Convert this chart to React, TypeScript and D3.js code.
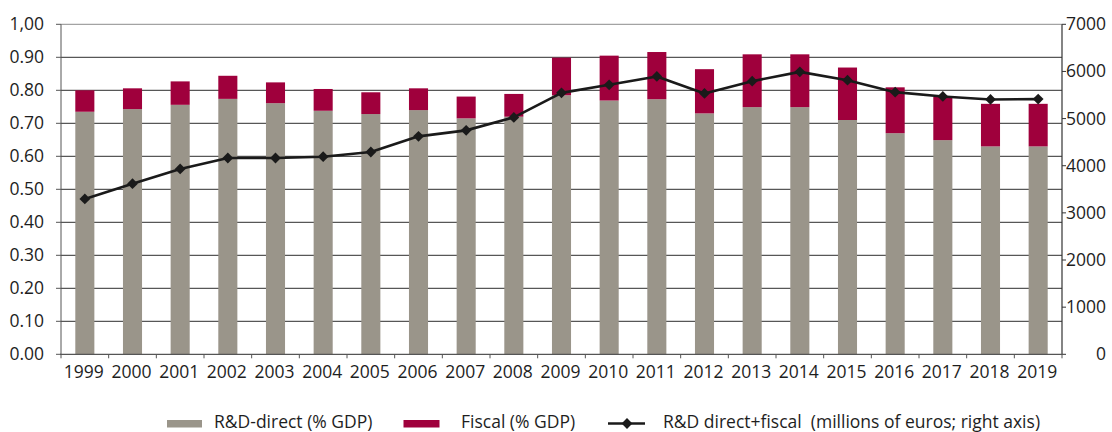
import React from 'react';
import * as d3 from 'd3';

const years = ['1999','2000','2001','2002','2003','2004','2005','2006','2007','2008','2009','2010','2011','2012','2013','2014','2015','2016','2017','2018','2019'];
const directPct = [0.735,0.743,0.756,0.774,0.761,0.738,0.728,0.740,0.715,0.720,0.785,0.769,0.773,0.730,0.749,0.749,0.710,0.670,0.649,0.630,0.630];
const fiscalPct = [0.065,0.063,0.071,0.070,0.063,0.066,0.066,0.066,0.066,0.069,0.114,0.136,0.143,0.134,0.160,0.160,0.159,0.139,0.131,0.129,0.129];
const totalMillions = [3296,3620,3931,4164,4164,4191,4291,4623,4750,5025,5546,5716,5893,5533,5794,5991,5815,5561,5470,5406,5413];
const leftTicks = [0,0.1,0.2,0.3,0.4,0.5,0.6,0.7,0.8,0.9,1.0];
const leftTickLabels = ['0.00','0.10','0.20','0.30','0.40','0.50','0.60','0.70','0.80','0.90','1,00'];
const rightTicks = [0,1000,2000,3000,4000,5000,6000,7000];
const legendLabels = ['R&D-direct (% GDP)','Fiscal (% GDP)','R&D direct+fiscal  (millions of euros; right axis)'];

const GREY = '#9a958a';
const RED = '#9f003c';
const LINE = '#1a1a1a';
const FONT = '"Open Sans", sans-serif';
const FS = 17.5;

export default function App() {
  const W = 1112, H = 432;
  const left = 61, right = 1062, top = 24.3, bottom = 354.3;

  const x = d3.scaleBand<string>().domain(years).range([left, right]).paddingInner(0.6).paddingOuter(0.3);
  const xStep = d3.scaleBand<string>().domain(years).range([left, right]).padding(0);
  const yL = d3.scaleLinear().domain([0, 1]).range([bottom, top]);
  const yR = d3.scaleLinear().domain([0, 7000]).range([bottom, top]);

  const cx = (i: number) => (x(years[i]) as number) + x.bandwidth() / 2;
  const linePath = d3.line<number>().x((_, i) => cx(i)).y(d => yR(d))(totalMillions) as string;
  const diamond = d3.symbol().type(d3.symbolSquare).size(58)() as string;

  const boundaries = years.map(y => xStep(y) as number).concat([right]);

  return (
    <svg width={W} height={H} style={{ position: 'absolute', left: 0, top: 0, background: '#fff' }} fontFamily={FONT}>
      {leftTicks.filter(t => t > 0).map((t, i) => (
        <line key={'g' + i} x1={left} x2={right} y1={yL(t)} y2={yL(t)} stroke={t === 1 ? '#8c8c8c' : '#2e2e2e'} strokeWidth={1} />
      ))}
      {years.map((yr, i) => (
        <g key={'b' + yr}>
          <rect x={x(yr)} width={x.bandwidth()} y={yL(directPct[i])} height={yL(0) - yL(directPct[i])} fill={GREY} />
          <rect x={x(yr)} width={x.bandwidth()} y={yL(directPct[i] + fiscalPct[i])} height={yL(directPct[i]) - yL(directPct[i] + fiscalPct[i])} fill={RED} />
        </g>
      ))}
      <line x1={left} x2={left} y1={top} y2={bottom} stroke="#555" strokeWidth={1} />
      <line x1={right} x2={right} y1={top} y2={bottom} stroke="#333" strokeWidth={1.2} />
      <line x1={left - 1} x2={right} y1={bottom} y2={bottom} stroke="#555" strokeWidth={1.2} />
      {leftTicks.map((t, i) => (
        <g key={'lt' + i}>
          <line x1={left - 5} x2={left} y1={yL(t)} y2={yL(t)} stroke="#555" />
          <text x={44} y={yL(t) + 6} textAnchor="end" fontSize={FS} fill="#1e1e1e">{leftTickLabels[i]}</text>
        </g>
      ))}
      {rightTicks.map((t, i) => (
        <g key={'rt' + i}>
          <line x1={right} x2={right + 4} y1={yR(t)} y2={yR(t)} stroke="#333" />
          <text x={1106} y={yR(t) + 6} textAnchor="end" fontSize={FS} fill="#1e1e1e">{t}</text>
        </g>
      ))}
      {boundaries.map((b, i) => (
        <line key={'xt' + i} x1={b} x2={b} y1={bottom} y2={bottom + 4} stroke="#555" />
      ))}
      {years.map((yr, i) => (
        <text key={'xl' + yr} x={cx(i) - 1} y={377.5} textAnchor="middle" fontSize={FS} fill="#1e1e1e">{yr}</text>
      ))}
      <path d={linePath} fill="none" stroke={LINE} strokeWidth={2.6} strokeLinejoin="round" />
      {totalMillions.map((v, i) => (
        <path key={'m' + i} d={diamond} transform={`translate(${cx(i)},${yR(v)}) rotate(45)`} fill={LINE} />
      ))}
      <rect x={167} y={420} width={35} height={7.5} fill={GREY} />
      <text x={214} y={428} fontSize={FS} fill="#1e1e1e" style={{ whiteSpace: 'pre' }}>{legendLabels[0]}</text>
      <rect x={403.5} y={420} width={36} height={7.5} fill={RED} />
      <text x={461} y={428} fontSize={FS} fill="#1e1e1e" style={{ whiteSpace: 'pre' }}>{legendLabels[1]}</text>
      <line x1={608} x2={645} y1={423.5} y2={423.5} stroke={LINE} strokeWidth={2.6} />
      <path d={diamond} transform="translate(627,423.5) rotate(45)" fill={LINE} />
      <text x={663} y={428} fontSize={FS} fill="#1e1e1e" style={{ whiteSpace: 'pre' }}>{legendLabels[2]}</text>
    </svg>
  );
}
